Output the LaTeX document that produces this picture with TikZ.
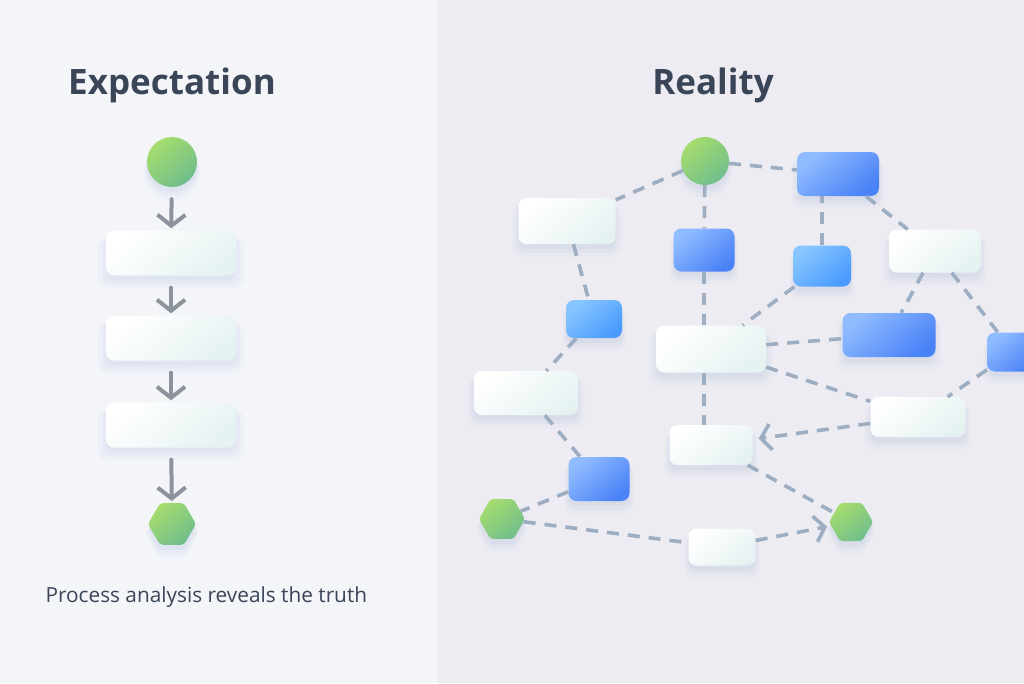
\documentclass[tikz,border=0pt]{standalone}
\usepackage{fontspec}
\setmainfont{Open Sans}
\usetikzlibrary{arrows.meta}
\usetikzlibrary{shapes.geometric}
\usetikzlibrary{shadows}

\definecolor{leftbg}{HTML}{F4F5F9}
\definecolor{rightbg}{HTML}{ECECF2}
\definecolor{titlegray}{HTML}{3A4558}
\definecolor{arrowgray}{HTML}{8C939D}
\definecolor{dashblue}{HTML}{9DADC2}
\definecolor{shadowblue}{HTML}{6F86C8}
\definecolor{greenA}{HTML}{A6DC6E}
\definecolor{greenB}{HTML}{6FBE8C}
\definecolor{blueA}{HTML}{90BCFF}
\definecolor{blueB}{HTML}{4A82F7}
\definecolor{skyA}{HTML}{88C6FF}
\definecolor{skyB}{HTML}{4A9BFF}
\definecolor{paleA}{HTML}{FFFFFF}
\definecolor{paleB}{HTML}{E6F2F2}

\begin{document}
\begin{tikzpicture}[x=1pt, y=-1pt,
    soft/.style={general shadow={shadow xshift=0pt, shadow yshift=-9pt, shadow scale=1.12, fill=shadowblue, opacity=0.04},
                 general shadow={shadow xshift=0pt, shadow yshift=-7pt, shadow scale=1.06, fill=shadowblue, opacity=0.05},
                 general shadow={shadow xshift=0pt, shadow yshift=-5pt, shadow scale=1.0, fill=shadowblue, opacity=0.06}},
    card/.style={soft, rounded corners=8pt, inner sep=0pt, top color=paleA, bottom color=paleB, shading angle=40},
    bluebox/.style={soft, rounded corners=8pt, inner sep=0pt, top color=blueA, bottom color=blueB, shading angle=40},
    skybox/.style={soft, rounded corners=8pt, inner sep=0pt, top color=skyA, bottom color=skyB, shading angle=40},
    startdot/.style={soft, circle, inner sep=0pt, top color=greenA, bottom color=greenB, shading angle=40},
    endhex/.style={soft, regular polygon, regular polygon sides=6, rounded corners=3pt, inner sep=0pt, top color=greenA, bottom color=greenB, shading angle=40},
    flow/.style={arrowgray, line width=4pt, line cap=round, -{Straight Barb[length=11pt, width=28pt]}},
    link/.style={dashblue, line width=3.6pt, dash pattern=on 12pt off 9pt}]
  \useasboundingbox (0,0) rectangle (1024,683);
  \clip (0,0) rectangle (1024,683);
  \fill[leftbg] (0,0) rectangle (438,683);
  \fill[rightbg] (438,0) rectangle (1024,683);

  \node[titlegray, font=\bfseries\fontsize{35}{40}\selectfont] (exptitle) at (172,85) {Expectation};
  \node[titlegray, font=\bfseries\fontsize{35}{40}\selectfont] (realtitle) at (713,85) {Reality};
  \node[titlegray, anchor=west, font=\fontsize{20.8}{24}\selectfont] (caption) at (42,597) {Process analysis reveals the truth};

  \node[startdot, minimum size=50pt] (e0) at (172,162) {};
  \node[card, minimum width=130pt, minimum height=45pt] (e1) at (171,253) {};
  \node[card, minimum width=130pt, minimum height=45pt] (e2) at (171,338) {};
  \node[card, minimum width=130pt, minimum height=45pt] (e3) at (171,425) {};
  \node[endhex, minimum size=48pt] (e4) at (172,524) {};
  \foreach \a/\b in {e0/e1, e1/e2, e2/e3, e3/e4}
    \draw[flow, shorten <=12pt, shorten >=2pt] (\a) -- (\b);

  \node[startdot, minimum size=48pt] (s) at (705,161) {};
  \node[bluebox, minimum width=82pt, minimum height=44pt] (A) at (838,174) {};
  \node[card, minimum width=97pt, minimum height=46pt] (W1) at (567,221) {};
  \node[bluebox, minimum width=61pt, minimum height=43pt] (B) at (704,250) {};
  \node[skybox, minimum width=58pt, minimum height=41pt] (C) at (822,266) {};
  \node[card, minimum width=92pt, minimum height=43pt] (W2) at (935,251) {};
  \node[skybox, minimum width=56pt, minimum height=38pt] (D) at (594,319) {};
  \node[card, minimum width=110pt, minimum height=47pt] (W3) at (711,349) {};
  \node[bluebox, minimum width=93pt, minimum height=44pt] (E) at (889,335) {};
  \node[bluebox, minimum width=52pt, minimum height=39pt] (F) at (1013,352) {};
  \node[card, minimum width=104pt, minimum height=44pt] (W4) at (526,393) {};
  \node[card, minimum width=95pt, minimum height=40pt] (W5) at (918,417) {};
  \node[card, minimum width=83pt, minimum height=40pt] (W6) at (711,445) {};
  \node[bluebox, minimum width=61pt, minimum height=44pt] (G) at (599,479) {};
  \node[endhex, minimum size=46pt] (H1) at (502,519) {};
  \node[endhex, minimum size=44pt] (H2) at (851,522) {};
  \node[card, minimum width=67pt, minimum height=37pt] (W7) at (722,547) {};

  \foreach \a/\b in {s/W1, s/A, A/W2, W1/D, C/W3, W2/E, W2/F, D/W4, W3/E, W3/W5, F/W5, W4/G, W6/H2, G/H1, H1/W7}
    \draw[link] (\a) -- (\b);
  \draw[link] (s) -- (B);
  \draw[link] (C.north) -- (C.north |- A.south);
  \draw[link] (B.south) -- (B.south |- W3.north);
  \draw[link] (W3.south -| B) -- (W6.north -| B);
  \draw[link, -{Straight Barb[length=10pt, width=26pt]}, shorten >=6pt] (W5) -- (W6);
  \draw[link, -{Straight Barb[length=10pt, width=26pt]}, shorten >=4pt] (W7) -- (H2);
\end{tikzpicture}
\end{document}
